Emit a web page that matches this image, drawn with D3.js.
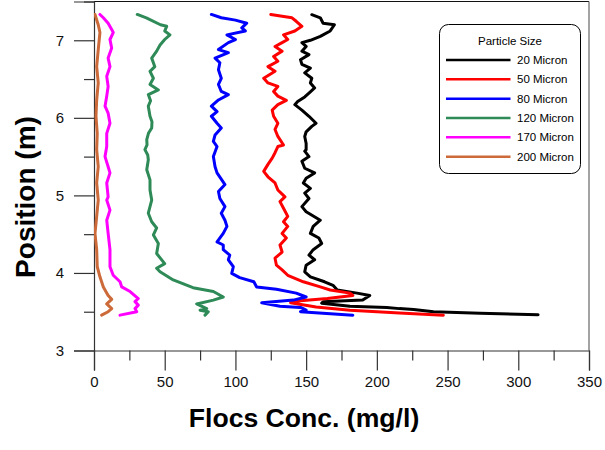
<!DOCTYPE html>
<html>
<head>
<meta charset="utf-8">
<script src="https://cdn.jsdelivr.net/npm/d3@7"></script>
<style>
  html, body { margin: 0; padding: 0; background: #fff; }
  svg { display: block; font-family: Arial, "Liberation Sans", sans-serif; }
</style>
</head>
<body>
<svg id="chart" width="605" height="450"></svg>
<script>
// Concentration profiles: each point is [position (m), flocs concentration (mg/l)]
const micron20 = [[7.33,154],[7.29,160],[7.22,162],[7.20,170],[7.12,167],[7.05,160],[7.00,153],[6.97,147],[6.92,150],[6.86,147],[6.815,152],[6.75,146],[6.69,147],[6.64,153],[6.58,149],[6.51,154],[6.45,153],[6.385,156],[6.32,152],[6.27,149],[6.21,144],[6.17,142],[6.10,147],[6.02,152],[5.93,157],[5.89,154],[5.82,150],[5.76,149],[5.67,150],[5.59,150],[5.57,149],[5.50,152],[5.44,147],[5.35,149],[5.29,156],[5.22,150],[5.16,148],[5.09,153],[5.03,149],[4.96,152],[4.855,147],[4.79,150],[4.68,160],[4.60,155],[4.51,153],[4.45,159],[4.38,161],[4.30,155],[4.23,152],[4.17,156],[4.10,150],[4.015,149],[3.95,153],[3.886,163],[3.84,169],[3.78,172],[3.74,186],[3.71,195],[3.65,190],[3.63,162],[3.61,161],[3.57,181],[3.555,207],[3.54,216],[3.53,226],[3.50,240],[3.48,273],[3.46,314]];
const micron50 = [[7.333,125],[7.31,133],[7.29,140],[7.245,143],[7.18,147],[7.12,142],[7.07,134],[7.01,137],[6.97,133],[6.92,128],[6.86,133],[6.79,127],[6.73,130],[6.66,123],[6.60,128],[6.51,120],[6.45,123],[6.405,130],[6.34,127],[6.28,130],[6.225,136],[6.17,130],[6.10,126],[6.02,127],[5.93,130],[5.85,128],[5.76,130],[5.65,134],[5.63,130],[5.55,128],[5.48,126],[5.40,123],[5.31,120],[5.24,123],[5.16,128],[5.07,130],[4.98,135],[4.92,131.5],[4.835,134],[4.73,137],[4.66,134],[4.60,137],[4.51,133],[4.45,136],[4.36,131.5],[4.27,133],[4.19,128],[4.10,129],[4.04,133],[3.97,137],[3.886,148],[3.82,160],[3.78,167],[3.74,181],[3.71,183],[3.67,165],[3.64,146],[3.615,139],[3.56,157],[3.52,181],[3.485,216],[3.456,247]];
const micron80 = [[7.333,83],[7.29,90],[7.26,100],[7.22,108],[7.16,104.5],[7.12,107],[7.07,94],[7.01,100],[6.97,95],[6.88,88],[6.84,95],[6.77,85.6],[6.71,89],[6.62,88],[6.51,90],[6.43,88],[6.34,90],[6.30,95],[6.23,88],[6.15,83],[6.08,87],[6.02,83],[5.93,87],[5.87,90],[5.78,85.6],[5.695,84.4],[5.63,87],[5.50,84.4],[5.37,85.6],[5.29,87],[5.14,92.6],[5.05,88],[4.96,89],[4.855,92.6],[4.77,90],[4.68,92.6],[4.60,94],[4.51,91.4],[4.40,87],[4.36,91.4],[4.30,91.4],[4.23,96],[4.17,95],[4.08,98.5],[3.995,97.4],[3.94,103],[3.886,113],[3.82,115],[3.79,129],[3.74,143],[3.69,150],[3.65,141],[3.615,118.6],[3.57,131.5],[3.555,146],[3.52,150],[3.50,146],[3.456,183]];
const micron120 = [[7.333,30.6],[7.29,37],[7.20,47],[7.18,51.4],[7.12,50],[7.07,53.7],[7.01,50],[6.94,46.7],[6.86,44.3],[6.77,40.8],[6.66,43],[6.60,39.6],[6.51,42],[6.43,39.6],[6.36,45.5],[6.30,38.4],[6.22,40],[6.15,38.4],[6.02,39.6],[5.95,41],[5.87,40.8],[5.80,38.5],[5.72,37.3],[5.65,37.5],[5.59,36],[5.52,38],[5.46,38.4],[5.33,37.3],[5.20,39.6],[5.07,39.6],[4.94,40.8],[4.77,38.4],[4.66,40.8],[4.58,44.3],[4.49,42],[4.38,45.5],[4.25,44.3],[4.12,50],[4.06,44.3],[4.015,46.7],[3.91,56],[3.81,70],[3.76,84.4],[3.69,91.4],[3.65,84.4],[3.60,72.6],[3.54,79.7],[3.52,75],[3.50,80.8],[3.456,78.5]];
const micron170 = [[7.333,4.2],[7.29,6.6],[7.22,10],[7.14,12.5],[7.10,13.6],[7.01,11.3],[6.90,12.5],[6.77,10],[6.66,11.3],[6.535,9],[6.405,10],[6.28,9],[6.15,7.8],[6.06,10],[5.93,11.3],[5.80,9],[5.63,9],[5.50,7.8],[5.37,10],[5.29,11.3],[5.16,9],[4.98,10],[4.94,9],[4.81,11.3],[4.68,9],[4.51,10],[4.30,11.3],[4.08,11.3],[3.97,13.6],[3.886,18.4],[3.82,19.6],[3.76,25.5],[3.67,31.3],[3.63,29],[3.585,31.3],[3.54,29],[3.50,30.2],[3.456,18.4]];
const micron200 = [[7.333,0.7],[7.20,3],[7.10,4.2],[6.88,3],[6.66,1.9],[6.45,3],[6.23,1.9],[6.02,1.4],[5.80,2.3],[5.59,1.9],[5.37,3],[5.16,1.9],[4.94,3],[4.73,1.9],[4.51,0.7],[4.30,1.9],[4.08,2.3],[3.95,4.2],[3.82,6.6],[3.71,10],[3.66,12.5],[3.60,9],[3.54,12.5],[3.50,10],[3.456,5.4]];

const seriesNames = ["20 Micron", "50 Micron", "80 Micron", "120 Micron", "170 Micron", "200 Micron"];
const seriesColors = ["#000000", "#ff0000", "#0000ff", "#2e8b57", "#ff00ff", "#cd6a3a"];
const seriesData = [micron20, micron50, micron80, micron120, micron170, micron200];

const xMajorTicks = [0, 50, 100, 150, 200, 250, 300, 350];
const xMinorTicks = [25, 75, 125, 175, 225, 275, 325];
const yMajorTicks = [3, 4, 5, 6, 7];
const yMinorTicks = [3.5, 4.5, 5.5, 6.5, 7.5];

const svg = d3.select("#chart");
const plotLeft = 94, plotRight = 589, plotTop = 1.5, plotBottom = 350.5;

const x = d3.scaleLinear().domain([0, 350]).range([plotLeft, plotRight]);
const y = d3.scaleLinear().domain([3, 7.5]).range([plotBottom, plotTop]);

svg.append("defs").append("clipPath").attr("id", "plotClip")
  .append("rect").attr("x", plotLeft).attr("y", plotTop)
  .attr("width", plotRight - plotLeft).attr("height", plotBottom - plotTop);

// frame (top and right)
svg.append("line").attr("x1", plotLeft).attr("x2", plotRight).attr("y1", plotTop).attr("y2", plotTop)
  .attr("stroke", "#111").attr("stroke-width", 1.2);
svg.append("line").attr("x1", plotRight).attr("x2", plotRight).attr("y1", plotTop).attr("y2", plotBottom)
  .attr("stroke", "#666").attr("stroke-width", 1.2);

// x axis: major ticks with labels, minor ticks without
svg.append("g").attr("transform", `translate(0,${plotBottom})`)
  .call(d3.axisBottom(x).tickValues(xMajorTicks).tickSize(20).tickPadding(6).tickFormat(d3.format("d")));
svg.append("g").attr("transform", `translate(0,${plotBottom})`)
  .call(d3.axisBottom(x).tickValues(xMinorTicks).tickSize(10).tickFormat(""))
  .call(g => g.select(".domain").remove());

// y axis
svg.append("g").attr("transform", `translate(${plotLeft},0)`)
  .call(d3.axisLeft(y).tickValues(yMajorTicks).tickSize(20).tickPadding(10).tickFormat(d3.format("d")));
svg.append("g").attr("transform", `translate(${plotLeft},0)`)
  .call(d3.axisLeft(y).tickValues(yMinorTicks).tickSize(10).tickFormat(""))
  .call(g => g.select(".domain").remove());

svg.selectAll(".domain").attr("stroke", "#333").attr("stroke-width", 1.2);
svg.selectAll(".tick line").attr("stroke", "#333").attr("stroke-width", 1.2);
svg.selectAll(".tick text").attr("font-size", 15).attr("fill", "#111")
  .attr("font-family", "Arial, 'Liberation Sans', sans-serif");

// profile lines
const line = d3.line().x(d => x(d[1])).y(d => y(d[0]));
const plot = svg.append("g").attr("clip-path", "url(#plotClip)");
seriesData.forEach((data, i) => {
  plot.append("path").datum(data)
    .attr("d", line)
    .attr("fill", "none")
    .attr("stroke", seriesColors[i])
    .attr("stroke-width", 3)
    .attr("stroke-linejoin", "round")
    .attr("stroke-linecap", "round");
});

// axis titles
svg.append("text").attr("x", 304).attr("y", 427).attr("text-anchor", "middle")
  .attr("font-size", 26.6).attr("font-weight", "bold").attr("fill", "#000")
  .text("Flocs Conc. (mg/l)");
svg.append("text").attr("transform", "translate(35,197) rotate(-90)").attr("text-anchor", "middle")
  .attr("font-size", 28).attr("font-weight", "bold").attr("fill", "#000")
  .text("Position (m)");

// legend
const legend = svg.append("g");
legend.append("rect").attr("x", 439.5).attr("y", 24.5).attr("width", 141).attr("height", 149)
  .attr("rx", 9).attr("fill", "#fff").attr("stroke", "#000").attr("stroke-width", 1);
legend.append("text").attr("x", 510).attr("y", 45).attr("text-anchor", "middle")
  .attr("font-size", 11.5).attr("fill", "#000").text("Particle Size");
seriesNames.forEach((name, i) => {
  const ry = 60 + i * 19.33;
  legend.append("line").attr("x1", 446).attr("x2", 510.5).attr("y1", ry).attr("y2", ry)
    .attr("stroke", seriesColors[i]).attr("stroke-width", 2.5);
  legend.append("text").attr("x", 517).attr("y", ry + 4).attr("font-size", 11.5).attr("fill", "#000")
    .text(name);
});
</script>
</body>
</html>
